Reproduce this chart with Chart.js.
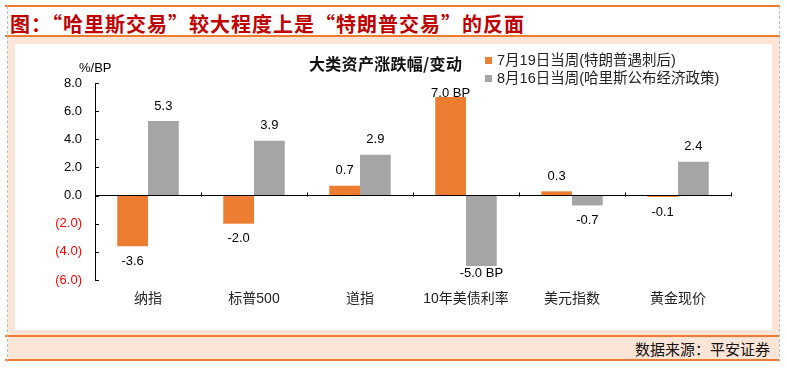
<!DOCTYPE html>
<html>
<head>
<meta charset="utf-8">
<script src="https://cdn.jsdelivr.net/npm/chart.js@4.4.1/dist/chart.umd.min.js"></script>
<style>
  body { margin: 0; width: 787px; height: 372px; background: #fff; position: relative; overflow: hidden;
         font-family: "Liberation Sans", "Noto Sans CJK SC", sans-serif; }
  .abs { position: absolute; }
  #frameL, #frameR { top: 6px; height: 356px; width: 0; border-left: 1px dashed #bbb; }
  #frameL { left: 7px; }
  #frameR { left: 779px; }
  .orange { left: 5px; width: 775px; height: 2px; background: #ee7b30; }
  #peach { left: 8px; top: 37px; width: 771px; height: 323px; background: #fce4d6; }
  #plotBg { left: 15px; top: 44px; width: 757px; height: 286px; background: #fff; }
  #title { left: 10px; top: 10px; line-height: 28px; font-size: 20px; font-weight: bold; color: #c00000;
           letter-spacing: 1px; font-family: "Noto Sans CJK SC", sans-serif; white-space: nowrap; }
  #chartTitle { left: 309px; top: 53px; line-height: 20px; font-size: 16px; font-weight: bold; color: #111;
                letter-spacing: 0.3px; font-family: "Noto Sans CJK SC", sans-serif; white-space: nowrap; }
  #unit { left: 79px; top: 60px; font-size: 13px; line-height: 16px; color: #000; }
  #legend { left: 485px; top: 51px; font-size: 14.5px; line-height: 18px; color: #222; }
  #legend div { white-space: nowrap; }
  #legend span { display: inline-block; width: 7px; height: 7px; margin-right: 5px; vertical-align: 1px; }
  #source { right: 17px; top: 338px; line-height: 22px; font-size: 15px; color: #111;
            font-family: "Noto Sans CJK SC", sans-serif; }
  canvas { position: absolute; left: 0; top: 0; }
</style>
</head>
<body>
<div class="abs" id="peach"></div>
<div class="abs" id="plotBg"></div>
<div class="abs orange" style="top:5px"></div>
<div class="abs orange" style="top:35px"></div>
<div class="abs orange" style="top:335px"></div>
<div class="abs orange" style="top:359px"></div>
<div class="abs" id="frameL"></div>
<div class="abs" id="frameR"></div>
<div class="abs" id="title">图：“哈里斯交易”较大程度上是“特朗普交易”的反面</div>
<div class="abs" id="source">数据来源：平安证券</div>
<canvas id="chart" width="787" height="372"></canvas>
<div class="abs" id="chartTitle">大类资产涨跌幅/变动</div>
<div class="abs" id="unit">%/BP</div>
<div class="abs" id="legend"></div>
<script>
const categories = ["纳指", "标普500", "道指", "10年美债利率", "美元指数", "黄金现价"];
const seriesNames = ["7月19日当周(特朗普遇刺后)", "8月16日当周(哈里斯公布经济政策)"];
const julyWeek = [-3.6, -2.0, 0.7, 7.0, 0.3, -0.1];
const augWeek = [5.3, 3.9, 2.9, -5.0, -0.7, 2.4];
const yTicks = [-6, -4, -2, 0, 2, 4, 6, 8];
// 美债利率是BP，其余是%
const labelSuffix = ["", "", "", " BP", "", ""];
const colors = ["#ed7d31", "#a5a5a5"];

// legend
const legendBox = document.getElementById("legend");
seriesNames.forEach((name, i) => {
  const row = document.createElement("div");
  const sw = document.createElement("span");
  sw.style.background = colors[i];
  row.appendChild(sw);
  row.appendChild(document.createTextNode(name));
  legendBox.appendChild(row);
});

// tick marks point inward, like Excel
const tickMarks = {
  id: "tickMarks",
  afterDraw(chart) {
    const { ctx, scales: { x, y } } = chart;
    ctx.save();
    ctx.strokeStyle = "#000";
    ctx.lineWidth = 1;
    ctx.beginPath();
    y.ticks.forEach(t => {
      const py = Math.round(y.getPixelForValue(t.value)) + 0.5;
      ctx.moveTo(y.right, py);
      ctx.lineTo(y.right + 4, py);
    });
    const zero = Math.round(y.getPixelForValue(0)) + 0.5;
    for (let i = 1; i <= categories.length; i++) {
      const px = Math.round(x.getPixelForValue(i - 0.5)) + 0.5;
      ctx.moveTo(px, zero);
      ctx.lineTo(px, zero - 4);
    }
    ctx.stroke();
    ctx.restore();
  }
};

// value labels, kept inside the plot area
const valueLabels = {
  id: "valueLabels",
  afterDatasetsDraw(chart) {
    const { ctx, chartArea } = chart;
    ctx.save();
    ctx.font = '13px "Liberation Sans", sans-serif';
    ctx.fillStyle = "#000";
    ctx.textAlign = "center";
    ctx.textBaseline = "middle";
    chart.data.datasets.forEach((ds, di) => {
      chart.getDatasetMeta(di).data.forEach((bar, i) => {
        const v = ds.data[i];
        let ty = v >= 0 ? bar.y - 15 : bar.y + 15;
        ty = Math.min(Math.max(ty, chartArea.top + 10), chartArea.bottom - 7);
        ctx.fillText(v.toFixed(1) + labelSuffix[i], bar.x, ty);
      });
    });
    ctx.restore();
  }
};

new Chart(document.getElementById("chart").getContext("2d"), {
  type: "bar",
  data: {
    labels: categories,
    datasets: [
      { label: seriesNames[0], data: julyWeek, backgroundColor: colors[0] },
      { label: seriesNames[1], data: augWeek, backgroundColor: colors[1] }
    ]
  },
  options: {
    responsive: false,
    animation: false,
    layout: { padding: { top: 83, right: 56, bottom: 0, left: 0 } },
    datasets: { bar: { barPercentage: 1, categoryPercentage: 0.58 } },
    plugins: { legend: { display: false }, tooltip: { enabled: false } },
    scales: {
      x: {
        grid: { display: false, drawTicks: false },
        border: { display: false },
        ticks: {
          padding: 11,
          color: "#222",
          font: { size: 14, family: '"Liberation Sans", "Noto Sans CJK SC", sans-serif' },
          maxRotation: 0
        },
        afterFit(s) { s.height = 92; }
      },
      y: {
        min: -6,
        max: 8,
        afterBuildTicks(s) { s.ticks = yTicks.map(v => ({ value: v })); },
        grid: {
          drawTicks: false,
          color: c => (c.tick && c.tick.value === 0 ? "#000" : "rgba(0,0,0,0)")
        },
        border: { display: true, color: "#000" },
        ticks: {
          padding: 13,
          font: { size: 13, family: '"Liberation Sans", sans-serif' },
          color: c => (c.tick.value < 0 ? "#ff0000" : "#000"),
          callback: v => (v < 0 ? "(" + Math.abs(v).toFixed(1) + ")" : v.toFixed(1))
        },
        afterFit(s) { s.width = 95; }
      }
    }
  },
  plugins: [tickMarks, valueLabels]
});
</script>
</body>
</html>
